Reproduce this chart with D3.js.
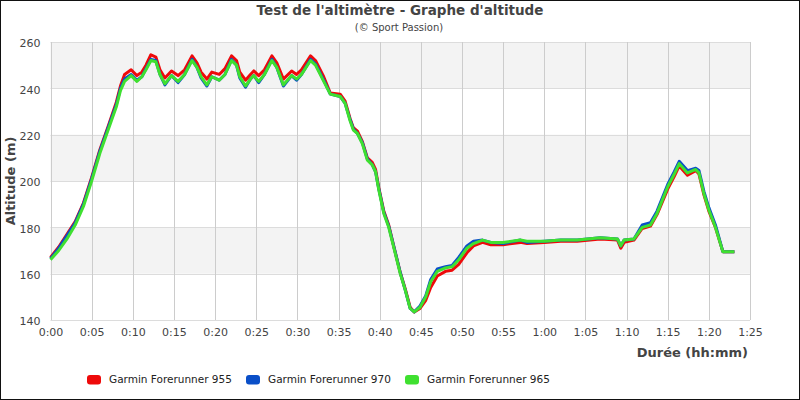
<!DOCTYPE html>
<html>
<head>
<meta charset="utf-8">
<script src="https://cdn.jsdelivr.net/npm/d3@7"></script>
<style>
  body { margin: 0; background: #fff; }
  svg { display: block; font-family: "DejaVu Sans", sans-serif; }
</style>
</head>
<body>
<svg id="chart" width="800" height="400"></svg>
<script>
// durée en minutes
const minutes = [0, 1, 2, 3, 4, 5, 6, 7, 8, 8.5, 9, 9.8, 10.5, 11.1, 11.6, 12.2, 12.8, 13.3, 13.9, 14.7,
  15.5, 16.3, 17.2, 17.8, 18.3, 19.0, 19.6, 20.5, 21.2, 22.0, 22.6, 23.0, 23.7, 24.3, 24.7, 25.3,
  26.0, 26.9, 27.5, 28.3, 29.3, 29.9, 30.5, 31.6, 32.2, 33.2, 34.0, 35.2, 35.8, 36.4, 36.8, 37.3,
  37.9, 38.5, 39.1, 39.5, 39.9, 40.5, 41.1, 41.7, 42.5, 43.1, 43.7, 44.2, 44.9, 45.6, 46.2, 47.0,
  48.0, 48.8, 49.6, 50.6, 51.4, 52.5, 53.5, 55, 57.1, 57.9, 60, 62, 64, 66.8, 68.9, 69.3, 69.7,
  70.9, 71.9, 72.9, 73.7, 75, 75.8, 76.4, 77.4, 78.4, 78.8, 79.4, 80.0, 80.8, 81.7, 83.1];

const alt955 = [167, 171.5, 177, 182.5, 190.5, 201.5, 213.5, 223.5, 234, 241, 246, 248, 245.5, 247,
  250, 254.5, 253.5, 248, 244.5, 247.5, 245.5, 248, 254, 251, 247, 244, 247, 246, 248.5, 254, 252,
  247, 243.5, 246, 247.5, 245.5, 248, 254, 251, 244, 247.5, 246, 248, 254, 252, 245, 238, 237.5,
  234.5, 227, 223, 221.5, 217, 210, 208, 205, 197, 187, 181, 172, 160.5, 153.5, 145.5, 143.5,
  145, 148.5, 154, 159, 161, 161.5, 164, 169, 172, 173.5, 172.5, 172.5, 173.5, 173, 173.5, 174,
  174, 175, 174.5, 171, 173.5, 174.5, 179.5, 180.5, 185.5, 196.5, 202, 206.5, 202.5, 204.5, 203,
  194, 187, 180, 169.5, 169.5];

const alt970 = [166.5, 171, 176.5, 182, 190, 201, 213, 223, 233, 240, 244, 246, 243.5, 245,
  248.5, 252.5, 252, 246, 241.5, 245.5, 242.5, 246, 252.5, 249, 244.5, 241, 245, 243.5, 246, 252.5,
  250, 244.5, 240.5, 244, 245.5, 242.5, 246, 252.5, 249, 241, 245.5, 243.5, 246, 252.5, 250.5,
  243.5, 237.5, 236.5, 233.5, 226.5, 222.5, 220.5, 216.5, 209.5, 207, 204, 196.5, 186.5, 180.5,
  172, 160.5, 153, 145, 143.5, 146, 150.5, 157.5, 162, 163, 163.5, 167, 172, 174, 174.5, 173.5,
  173, 174.5, 173.5, 174, 174.5, 174.5, 175.5, 175, 172, 174.5, 175, 181, 182, 187, 198.5, 204,
  208.5, 204.5, 205.5, 204.5, 195.5, 188.5, 181, 169.5, 169.5];

const alt965 = [166, 170, 175, 181, 189, 200, 212, 222, 232, 239, 243, 245.5, 243, 245, 248,
  252, 251.5, 246, 242, 245.5, 243, 246, 252, 249, 245, 241.5, 245, 243.5, 246, 252, 250, 245, 241,
  244, 245.5, 243, 246, 252, 249, 241.5, 245.5, 244, 246, 252, 250, 243, 237.5, 236.5, 233.5, 226,
  222, 220.5, 216, 209, 207, 204, 196, 186, 180, 171.5, 160, 153, 145, 143.5, 145.5, 150, 156.5,
  161, 162.5, 163, 166, 171, 173, 174.5, 173.5, 173.5, 174.5, 174, 174, 174.5, 174.5, 175.5, 175,
  172, 174.5, 175, 180, 181, 186, 197.5, 203, 207.5, 203.5, 205, 203.5, 194.5, 187.5, 180, 169.5,
  169.5];

const seriesNames = ["Garmin Forerunner 955", "Garmin Forerunner 970", "Garmin Forerunner 965"];
const seriesColors = ["#ee0a0a", "#0a4fc8", "#3fe030"];
const xTicks = d3.range(0, 86, 5);
const yTicks = [140, 160, 180, 200, 220, 240, 260];

const svg = d3.select("#chart");
const margin = {top: 42, right: 50, bottom: 80, left: 50.5};
const W = 800, H = 400;

const x = d3.scaleLinear().domain([0, 85]).range([margin.left, W - margin.right]);
const y = d3.scaleLinear().domain([140, 260]).range([H - margin.bottom, margin.top]);

const fmt = m => Math.floor(m / 60) + ":" + d3.format("02")(m % 60);

// bandes alternées (160-180, 200-220, 240-260 en gris)
for (let i = 0; i < yTicks.length - 1; i++) {
  if (i % 2 === 1) {
    svg.append("rect")
      .attr("x", x(0)).attr("width", x(85) - x(0))
      .attr("y", y(yTicks[i + 1])).attr("height", y(yTicks[i]) - y(yTicks[i + 1]))
      .attr("fill", "#f3f3f3");
  }
}

// grille
svg.append("g").selectAll("line").data(yTicks).join("line")
  .attr("x1", x(0)).attr("x2", x(85))
  .attr("y1", d => Math.round(y(d)) + 0.5).attr("y2", d => Math.round(y(d)) + 0.5)
  .attr("stroke", "#dcdcdc");
svg.append("g").selectAll("line").data(xTicks).join("line")
  .attr("y1", y(140)).attr("y2", y(260))
  .attr("x1", d => Math.round(x(d)) + 0.5).attr("x2", d => Math.round(x(d)) + 0.5)
  .attr("stroke", "#cccccc");

// axes
const xAxis = svg.append("g").attr("transform", `translate(0,${y(140)})`)
  .call(d3.axisBottom(x).tickValues(xTicks).tickFormat(fmt).tickSize(0).tickPadding(8));
const yAxis = svg.append("g").attr("transform", `translate(${x(0)},0)`)
  .call(d3.axisLeft(y).tickValues(yTicks).tickSize(0).tickPadding(10));
[xAxis, yAxis].forEach(a => {
  a.select(".domain").remove();
  a.selectAll("text").attr("fill", "#444").style("font-size", "11px")
    .style("font-family", "'DejaVu Sans', sans-serif");
});
yAxis.selectAll("text").attr("dy", "0.45em");

// courbes
const line = d3.line().x((d, i) => x(minutes[i])).y(d => y(d));
[alt955, alt970, alt965].forEach((s, k) => {
  svg.append("path").datum(s)
    .attr("d", line)
    .attr("fill", "none")
    .attr("stroke", seriesColors[k])
    .attr("stroke-width", 3)
    .attr("stroke-linejoin", "round");
});

// titres
svg.append("text").attr("x", 400).attr("y", 15).attr("text-anchor", "middle")
  .attr("font-weight", "bold").attr("font-size", 13.5).attr("fill", "#444")
  .text("Test de l'altimètre - Graphe d'altitude");
svg.append("text").attr("x", 399).attr("y", 31).attr("text-anchor", "middle")
  .attr("font-size", 10).attr("fill", "#444")
  .text("(© Sport Passion)");
svg.append("text").attr("transform", `translate(14.5,${(y(140) + y(260)) / 2}) rotate(-90)`)
  .attr("text-anchor", "middle").attr("font-weight", "bold").attr("font-size", 13).attr("fill", "#444")
  .text("Altitude (m)");
svg.append("text").attr("x", 748).attr("y", 357).attr("text-anchor", "end")
  .attr("font-weight", "bold").attr("font-size", 13).attr("fill", "#444")
  .text("Durée (hh:mm)");

// légende
const legendX = [87, 246, 405];
const lg = svg.append("g").selectAll("g").data(seriesNames).join("g")
  .attr("transform", (d, i) => `translate(${legendX[i]},375)`);
lg.append("rect").attr("width", 14).attr("height", 9.5).attr("rx", 3)
  .attr("fill", (d, i) => seriesColors[i]);
lg.append("text").attr("x", 22).attr("y", 8).attr("font-size", 10.5).attr("fill", "#222")
  .text(d => d);

// cadre
svg.append("rect").attr("x", 0.5).attr("y", 0.5).attr("width", W - 1).attr("height", H - 1)
  .attr("fill", "none").attr("stroke", "#111");
</script>
</body>
</html>
